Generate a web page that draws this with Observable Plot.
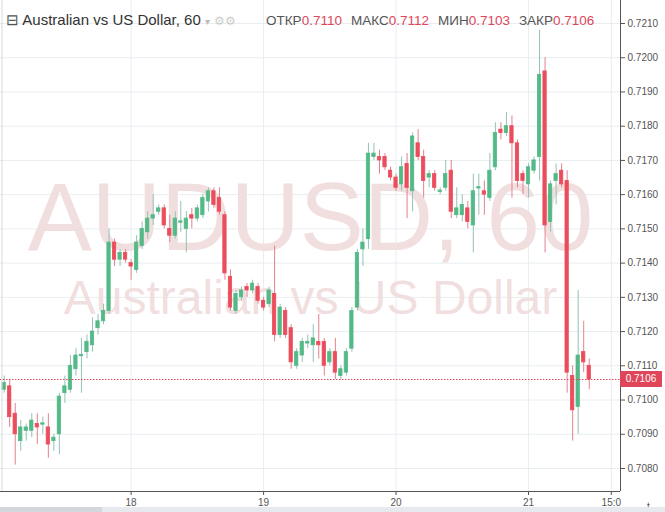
<!DOCTYPE html>
<html>
<head>
<meta charset="utf-8">
<script src="https://cdn.jsdelivr.net/npm/d3@7"></script>
<script src="https://cdn.jsdelivr.net/npm/@observablehq/plot@0.6"></script>
<style>
  html, body { margin: 0; padding: 0; background: #fff; }
  #wrap { position: relative; width: 665px; height: 512px; overflow: hidden; font-family: "Liberation Sans", Arial, sans-serif; }
  #wrap svg { position: absolute; left: 0; top: 0; }
  .hdr { position: absolute; top: 11px; white-space: nowrap; }
  .title { left: 6px; font-size: 15px; color: #333; }
  .ohlc { left: 266px; font-size: 13.5px; color: #555; top: 13px; }
  .ohlc .v { color: #e0465a; margin-right: 9px; }
  .tag { position: absolute; left: 620px; width: 42px; height: 16px; background: #e0465a; color: #fff; font-size: 10px; line-height: 16px; text-align: center; }
  .strip { position: absolute; left: 0; top: 507px; width: 665px; height: 5px; background: #e6e9ed; }
  .thumb { position: absolute; left: 0; top: 507px; width: 102px; height: 5px; background: #d3d7dc; }
</style>
</head>
<body>
<div id="wrap"></div>
<script>
// ---- data (hourly candles, AUDUSD 60 min) ----
const startTime = Date.UTC(2018, 8, 17, 1); // first candle: 17th 01:00
const opens  = [0.7103,0.7104,0.7096,0.7088,0.7091,0.7091,0.7093,0.70928,0.7092,0.7088,0.7090,0.7102,0.7103,0.7109,0.71128,0.7114,0.7116,0.7121,0.7123,0.7126,0.7146,0.7141,0.7143,0.7140,0.7138,0.7145,0.7149,0.7153,0.7155,0.7156,0.7150,0.7148,0.71518,0.7150,0.7154,0.7153,0.7154,0.7158,0.7161,0.7159,0.7154,0.7136,0.7126,0.7130,0.7133,0.7132,0.7133,0.7129,0.7128,0.7131,0.7119,0.7126,0.7121,0.7110,0.7113,0.71165,0.7116,0.7117,0.7117,0.7111,0.7114,0.7107,0.7108,0.7115,0.7127,0.7144,0.7147,0.7171,0.7171,0.7171,0.7167,0.7165,0.7163,0.7169,0.7161,0.7175,0.7171,0.7165,0.7166,0.71608,0.7162,0.7167,0.7154,0.7154,0.7156,0.7151,0.71618,0.7161,0.7159,0.7168,0.7179,0.7178,0.7180,0.7175,0.7166,0.7163,0.7167,0.7171,0.7196,0.7152,0.7164,0.7167,0.7164,0.7107,0.7098,0.7114,0.7110];
const highs  = [0.7107,0.7106,0.7099,0.7094,0.7093,0.7096,0.7096,0.7095,0.7096,0.7090,0.7102,0.7107,0.7113,0.7115,0.7118,0.7119,0.7124,0.7125,0.7128,0.7150,0.7147,0.7144,0.7144,0.7141,0.7148,0.7152,0.7155,0.7160,0.7157,0.7157,0.7154,0.7155,0.7158,0.7155,0.7156,0.7157,0.7160,0.7162,0.7162,0.7162,0.7155,0.7138,0.7132,0.7133,0.7134,0.7135,0.7134,0.7130,0.7133,0.7145,0.7128,0.7127,0.7122,0.7115,0.7118,0.7119,0.7122,0.7125,0.7118,0.7115,0.7118,0.7110,0.7115,0.7127,0.7144,0.7150,0.7175,0.7175,0.7173,0.7172,0.7168,0.7166,0.7171,0.7172,0.7178,0.7179,0.7173,0.7167,0.7167,0.7162,0.7170,0.7170,0.7162,0.7160,0.7158,0.7166,0.7166,0.7164,0.7172,0.7181,0.7181,0.7184,0.7183,0.7176,0.7167,0.7169,0.7171,0.7208,0.7200,0.7164,0.7169,0.7169,0.7167,0.7110,0.7132,0.7123,0.7112];
const lows   = [0.7102,0.7092,0.7081,0.7085,0.7088,0.7089,0.7087,0.7090,0.7083,0.7085,0.7084,0.7099,0.7102,0.7107,0.7102,0.7112,0.7114,0.7119,0.7122,0.7125,0.7139,0.7139,0.7140,0.7135,0.7137,0.7144,0.7147,0.7151,0.7154,0.7150,0.7146,0.7147,0.7149,0.7143,0.7150,0.7152,0.7153,0.7155,0.7156,0.7154,0.7135,0.7126,0.7125,0.7129,0.7130,0.7131,0.7128,0.7126,0.7127,0.7117,0.7118,0.7118,0.7109,0.7109,0.7111,0.7115,0.7111,0.7112,0.7107,0.7110,0.7106,0.7106,0.7107,0.7114,0.7126,0.7139,0.7144,0.7170,0.7166,0.7167,0.7164,0.7161,0.7161,0.7153,0.7155,0.7170,0.7159,0.7162,0.7161,0.7160,0.7161,0.7153,0.7153,0.7152,0.7150,0.7143,0.7154,0.7154,0.7158,0.7167,0.7176,0.7177,0.7159,0.7162,0.7160,0.7159,0.7166,0.7164,0.7143,0.7149,0.7157,0.7162,0.7102,0.7088,0.7090,0.7108,0.7103];
const closes = [0.7105,0.7095,0.7090,0.7092,0.7092,0.7094,0.7092,0.70932,0.7087,0.7089,0.7101,0.7104,0.7110,0.7113,0.71132,0.7117,0.7120,0.7123,0.7126,0.7146,0.7141,0.7143,0.7141,0.7139,0.7146,0.7150,0.7153,0.7154,0.7156,0.7151,0.7148,0.7153,0.71522,0.7153,0.7153,0.7156,0.7159,0.7161,0.7157,0.7155,0.7137,0.7127,0.7131,0.7132,0.7132,0.7134,0.7129,0.7127,0.7132,0.7119,0.7127,0.7119,0.7111,0.7114,0.7117,0.7117,0.7118,0.7116,0.7110,0.7114,0.7108,0.7109,0.7114,0.7126,0.7143,0.7146,0.7172,0.7172,0.7170,0.7168,0.7165,0.7162,0.7168,0.7162,0.7177,0.7171,0.7164,0.7166,0.7162,0.71612,0.7166,0.7155,0.7156,0.7157,0.7152,0.7161,0.71622,0.7160,0.7167,0.7178,0.7178,0.7180,0.7175,0.7164,0.7164,0.7168,0.7170,0.7195,0.7151,0.7163,0.7166,0.7163,0.7108,0.7097,0.7113,0.7111,0.7106];

const yTicks = [0.7080,0.7090,0.7100,0.7110,0.7120,0.7130,0.7140,0.7150,0.7160,0.7170,0.7180,0.7190,0.7200,0.7210];
const xTickDates = [Date.UTC(2018,8,18), Date.UTC(2018,8,19), Date.UTC(2018,8,20), Date.UTC(2018,8,21), Date.UTC(2018,8,21,15)].map(d => new Date(d));
const xTickLabels = ["18", "19", "20", "21", "15:0"];
const xDomain = [new Date(Date.UTC(2018,8,17,0,20)), new Date(Date.UTC(2018,8,21,16,40))];
const yDomain = [0.707328, 0.721672];

const symbolTitle = "Australian vs US Dollar, 60";
const watermark1 = "AUDUSD, 60";
const watermark2 = "Australian vs US Dollar";
const ohlcLabels = ["ОТКР", "МАКС", "МИН", "ЗАКР"];
const ohlcValues = ["0.7110", "0.7112", "0.7103", "0.7106"];

// ---- build ----
const candles = opens.map((o, i) => ({
  t: new Date(startTime + i * 3600e3), o, h: highs[i], l: lows[i], c: closes[i]
}));
const up = candles.filter(d => d.c >= d.o);
const down = candles.filter(d => d.c < d.o);
const half = 18 * 60e3;
const last = closes[closes.length - 1];

const GREEN = "#53b987", RED = "#eb4d5c";
const labelMap = new Map(xTickDates.map((d, i) => [+d, xTickLabels[i]]));

const plot = Plot.plot({
  width: 665, height: 512,
  marginLeft: 0, marginRight: 45, marginTop: 0, marginBottom: 21,
  style: { fontFamily: "Liberation Sans, Arial, sans-serif", background: "transparent", overflow: "visible" },
  x: { type: "utc", domain: xDomain },
  y: { domain: yDomain },
  marks: [
    Plot.gridY(yTicks, { stroke: "#e8edf0", strokeOpacity: 1 }),
    Plot.gridX(xTickDates, { stroke: "#e8edf0", strokeOpacity: 1 }),
    Plot.text([watermark1], { frameAnchor: "top", dy: 219, fontSize: 96, fill: "#f1dfdf", lineAnchor: "middle" }),
    Plot.text([watermark2], { frameAnchor: "top", dy: 298, fontSize: 48, fill: "#f1dfdf", lineAnchor: "middle" }),
    Plot.ruleX(up, { x: "t", y1: "l", y2: "h", stroke: "#93c2b6", strokeWidth: 1 }),
    Plot.ruleX(down, { x: "t", y1: "l", y2: "h", stroke: "#e6808b", strokeWidth: 1 }),
    Plot.rect(up, { x1: d => new Date(+d.t - half), x2: d => new Date(+d.t + half), y1: "o", y2: "c", fill: GREEN, stroke: GREEN, strokeWidth: 0.8 }),
    Plot.rect(down, { x1: d => new Date(+d.t - half), x2: d => new Date(+d.t + half), y1: "o", y2: "c", fill: RED, stroke: RED, strokeWidth: 0.8 }),
    Plot.ruleY([last], { stroke: "#e0465a", strokeWidth: 1, strokeDasharray: "1.5,1.5" }),
    Plot.ruleX([xDomain[0]], { stroke: "#d5d9dd", dx: 1.5 }),
    Plot.ruleX([xDomain[1]], { stroke: "#555" }),
    Plot.ruleY([yDomain[0]], { stroke: "#555" }),
    Plot.axisY(yTicks, { anchor: "right", tickFormat: d3.format(".4f"), tickSize: 4, tickPadding: 3, fontSize: 10, color: "#555" }),
    Plot.axisX(xTickDates, { anchor: "bottom", tickFormat: d => labelMap.get(+d), tickSize: 4, tickPadding: 3, fontSize: 10, color: "#555" })
  ]
});

const wrap = document.getElementById("wrap");
wrap.appendChild(plot);

const title = document.createElement("div");
title.className = "hdr title";
title.innerHTML = '<span style="color:#555">⊟</span> ' + symbolTitle + ' <span style="color:#bbb;font-size:10px">▾</span> <span style="color:#ccc;font-size:12px">⚙⚙</span>';
wrap.appendChild(title);

const ohlc = document.createElement("div");
ohlc.className = "hdr ohlc";
ohlc.innerHTML = ohlcLabels.map((l, i) => l + '<span class="v">' + ohlcValues[i] + '</span>').join("");
wrap.appendChild(ohlc);

const tag = document.createElement("div");
tag.className = "tag";
tag.textContent = d3.format(".4f")(last);
tag.style.top = (plot.scale("y").apply(last) - 8) + "px";
wrap.appendChild(tag);

const strip = document.createElement("div"); strip.className = "strip"; wrap.appendChild(strip);
const thumb = document.createElement("div"); thumb.className = "thumb"; wrap.appendChild(thumb);
</script>
</body>
</html>
